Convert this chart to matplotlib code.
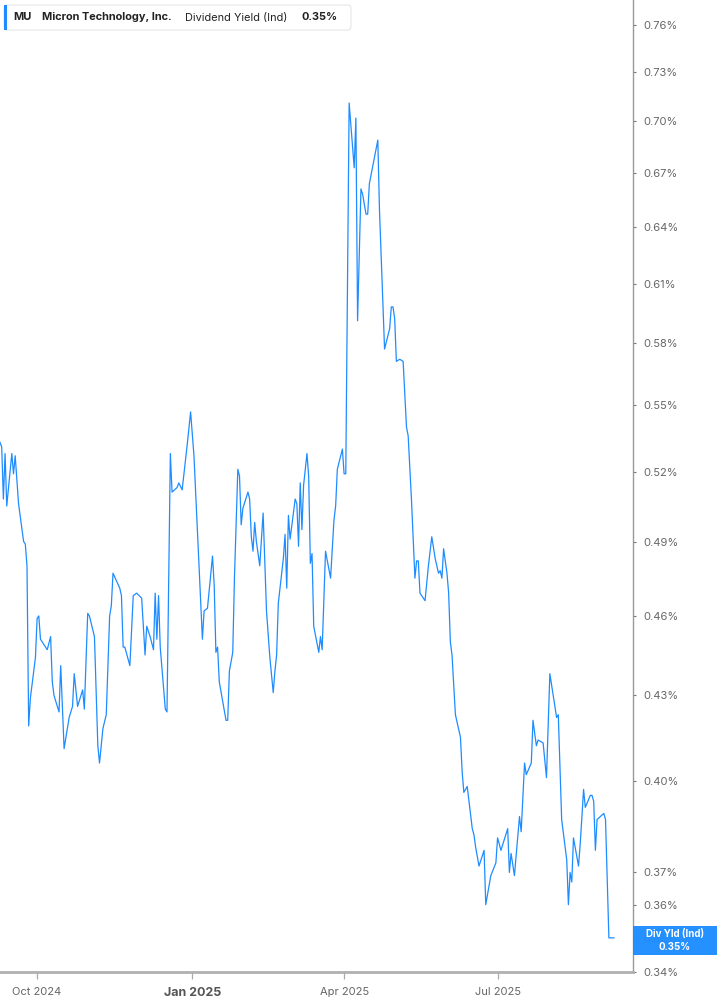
import numpy as np
import pandas as pd
import matplotlib
matplotlib.use("Agg")
import matplotlib.pyplot as plt
import matplotlib.dates as mdates
from matplotlib.patches import FancyBboxPatch, Rectangle
from matplotlib.ticker import FixedLocator, FixedFormatter, NullLocator

plt.rcParams['font.family'] = ['Inter', 'DejaVu Sans']

# MU dividend yield (indicated), % -- days counted from 2024-09-09
start = pd.Timestamp("2024-09-09")
day = [0, 1, 2, 3, 4, 7, 8, 9, 11, 14, 15, 16, 17, 18, 21, 22, 23, 24, 25, 28,
       30, 31, 32, 35, 36, 38, 41, 43, 44, 46, 49, 50, 52, 53, 56, 58, 59, 61, 63, 65,
       66, 67, 71, 72, 73, 74, 77, 79, 81, 84, 86, 87, 89, 91, 92, 93, 94, 95, 98, 99,
       101, 102, 105, 106, 108, 111, 113, 115, 117, 120, 121, 123, 126, 127, 128, 129, 130, 134, 135, 136,
       138, 139, 141, 142, 143, 144, 147, 148, 149, 150, 151, 152, 154, 156, 158, 160, 162, 163, 164, 165,
       168, 169, 170, 171, 172, 175, 176, 177, 178, 179, 180, 182, 183, 184, 185, 186, 189, 190, 191, 193,
       196, 198, 199, 200, 203, 204, 205, 207, 210, 211, 212, 214, 215, 217, 218, 219, 224, 225, 228, 231,
       232, 233, 234, 235, 237, 239, 241, 242, 244, 246, 247, 248, 249, 252, 254, 256, 258, 260, 261, 262,
       263, 265, 266, 267, 268, 270, 273, 274, 275, 277, 280, 281, 282, 284, 287, 288, 291, 294, 295, 297,
       301, 302, 303, 305, 308, 309, 311, 312, 315, 316, 318, 319, 322, 324, 326, 330, 331, 333, 336, 337,
       338, 339, 340, 343, 344, 346, 347, 350, 351, 352, 353, 354, 358, 359, 361, 364]
div_yield = [0.533, 0.531, 0.508, 0.528, 0.505, 0.528, 0.519, 0.527, 0.506, 0.490,
             0.489, 0.480, 0.419, 0.429, 0.444, 0.459, 0.460, 0.451, 0.450, 0.447,
             0.452, 0.435, 0.430, 0.424, 0.441, 0.411, 0.422, 0.426, 0.438, 0.426,
             0.432, 0.425, 0.461, 0.460, 0.452, 0.412, 0.406, 0.418, 0.423, 0.460,
             0.464, 0.477, 0.471, 0.468, 0.448, 0.448, 0.441, 0.468, 0.469, 0.467,
             0.445, 0.456, 0.452, 0.447, 0.469, 0.451, 0.468, 0.448, 0.425, 0.424,
             0.528, 0.511, 0.513, 0.515, 0.512, 0.532, 0.547, 0.527, 0.495, 0.451,
             0.462, 0.463, 0.484, 0.472, 0.446, 0.448, 0.435, 0.421, 0.421, 0.439,
             0.446, 0.475, 0.521, 0.518, 0.497, 0.504, 0.511, 0.508, 0.492, 0.486,
             0.498, 0.490, 0.480, 0.502, 0.462, 0.444, 0.431, 0.439, 0.445, 0.465,
             0.483, 0.493, 0.471, 0.501, 0.491, 0.508, 0.506, 0.488, 0.515, 0.495,
             0.514, 0.528, 0.518, 0.481, 0.485, 0.456, 0.446, 0.452, 0.447, 0.486,
             0.475, 0.499, 0.505, 0.521, 0.530, 0.519, 0.519, 0.711, 0.673, 0.702,
             0.591, 0.661, 0.658, 0.647, 0.647, 0.664, 0.689, 0.649, 0.577, 0.587,
             0.598, 0.598, 0.592, 0.571, 0.572, 0.571, 0.540, 0.536, 0.507, 0.475,
             0.482, 0.482, 0.469, 0.466, 0.480, 0.492, 0.483, 0.477, 0.478, 0.475,
             0.487, 0.477, 0.469, 0.450, 0.445, 0.423, 0.415, 0.403, 0.396, 0.398,
             0.384, 0.382, 0.378, 0.372, 0.377, 0.360, 0.369, 0.373, 0.381, 0.377,
             0.384, 0.370, 0.376, 0.369, 0.388, 0.383, 0.406, 0.402, 0.406, 0.421,
             0.412, 0.414, 0.413, 0.401, 0.438, 0.422, 0.423, 0.387, 0.374, 0.360,
             0.370, 0.367, 0.381, 0.372, 0.379, 0.397, 0.391, 0.395, 0.395, 0.393,
             0.377, 0.387, 0.389, 0.387, 0.350, 0.350]

ytick_vals = [0.34, 0.35, 0.36, 0.37, 0.40, 0.43, 0.46, 0.49, 0.52, 0.55, 0.58,
              0.61, 0.64, 0.67, 0.70, 0.73, 0.76]
xtick_dates = ["2024-10-01", "2025-01-01", "2025-04-01", "2025-07-01"]
xtick_labels = ["Oct 2024", "Jan 2025", "Apr 2025", "Jul 2025"]
last_value = 0.35

blue = "#1e8cff"
dates = start + pd.to_timedelta(day, unit="D")

W, H = 717, 1005
fig = plt.figure(figsize=(W / 100, H / 100), dpi=100)
ax = fig.add_axes([0, 1 - 972 / H, 632.5 / W, 972 / H])

ax.plot(dates, div_yield, color=blue, lw=0.9)

ax.set_yscale("log")
ax.set_ylim(0.34, 0.776)
ax.set_xlim(start, start + pd.Timedelta(days=375))

ax.yaxis.tick_right()
ax.yaxis.set_major_locator(FixedLocator(ytick_vals))
ax.yaxis.set_major_formatter(FixedFormatter(["%.2f%%" % v for v in ytick_vals]))
ax.yaxis.set_minor_locator(NullLocator())
ax.tick_params(axis="y", length=2.5, width=0.8, color="#777777", pad=5,
               labelsize=8, labelcolor="#666666")

xt = [mdates.date2num(pd.Timestamp(d)) for d in xtick_dates]
ax.set_xticks(xt)
ax.set_xticklabels(xtick_labels)
ax.tick_params(axis="x", length=5, width=0.9, color="#aaaaaa", pad=6,
               labelsize=8, labelcolor="#666666")
for lab in ax.get_xticklabels():
    if lab.get_text() == "Jan 2025":
        lab.set_fontweight("bold")
        lab.set_fontsize(9)
        lab.set_color("#555555")

for s in ["top", "left"]:
    ax.spines[s].set_visible(False)
ax.spines["bottom"].set_color("#b0b0b0")
ax.spines["bottom"].set_linewidth(2)
ax.spines["right"].set_color("#999999")
ax.spines["right"].set_linewidth(1)

# last value tag on the right axis
fig.patches.append(Rectangle((632.5 / W, 1 - 955 / H), (W - 632.5) / W, 29 / H,
                             transform=fig.transFigure, facecolor=blue,
                             edgecolor="none", alpha=0.97, zorder=5))
fig.text(675 / W, 1 - 933.5 / H, "Div Yld (Ind)", color="white", fontsize=7,
         fontweight="bold", ha="center", va="center", zorder=6)
fig.text(675 / W, 1 - 947 / H, "%.2f%%" % last_value, color="white", fontsize=7,
         fontweight="bold", ha="center", va="center", zorder=6)

# header legend box
fig.patches.append(FancyBboxPatch((4 / W, 1 - 30 / H), 347 / W, 25 / H,
                                  boxstyle="round,pad=0,rounding_size=0.004",
                                  transform=fig.transFigure, facecolor="white",
                                  edgecolor="#e6e6e6", lw=0.8, zorder=5))
fig.patches.append(Rectangle((4 / W, 1 - 30 / H), 3 / W, 25 / H,
                             transform=fig.transFigure, facecolor=blue,
                             edgecolor="none", zorder=6))
hy = 1 - 17.5 / H
hfs = 7.9
fig.text(13 / W, hy, "MU", fontsize=hfs, fontweight="bold", color="#222222",
         va="center", zorder=7)
fig.text(42 / W, hy, "Micron Technology, Inc.", fontsize=hfs, fontweight="bold",
         color="#222222", va="center", zorder=7)
fig.text(185 / W, hy, "Dividend Yield (Ind)", fontsize=hfs, color="#222222",
         va="center", zorder=7)
fig.text(302 / W, hy, "%.2f%%" % last_value, fontsize=hfs, fontweight="bold",
         color="#222222", va="center", zorder=7)

fig.savefig("out.png", dpi=100)
